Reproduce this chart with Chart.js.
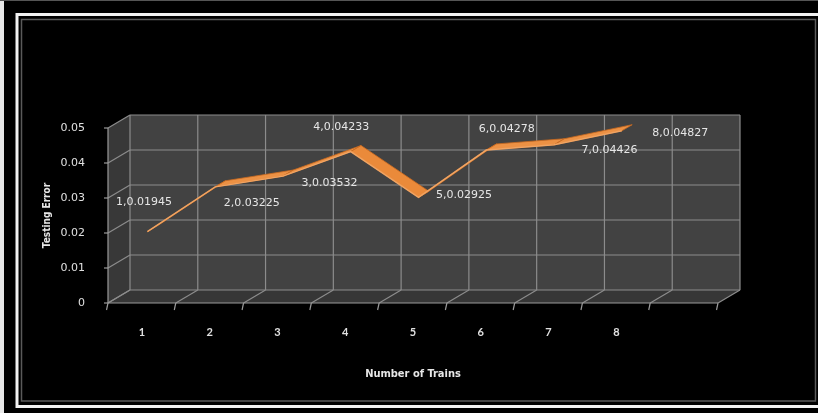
<!DOCTYPE html>
<html>
<head>
<meta charset="utf-8">
<style>
  html, body { margin: 0; padding: 0; background: #000; }
  #wrap { width: 818px; height: 413px; }
</style>
<script src="https://cdn.jsdelivr.net/npm/chart.js@4/dist/chart.umd.min.js"></script>
</head>
<body>
<div id="wrap"><canvas id="c" width="818" height="413"></canvas></div>
<script>
// Number of trains (last slot is the empty depth column of the 3D frame)
const trains = ['1', '2', '3', '4', '5', '6', '7', '8', ''];
// Testing error per number of trains
const testingError = [0.01945, 0.03225, 0.03532, 0.04233, 0.02925, 0.04278, 0.04426, 0.04827];
// Value axis ticks
const errorTicks = [0, 0.01, 0.02, 0.03, 0.04, 0.05];

// Label placement around each point (pixels, relative to the point)
const labelShift = [[2, -33], [42, 13], [52, 4], [-4, -28], [51, -5], [26, -24], [61, 2], [64, -1]];

// Depth of the 3D box and where the ribbon sits inside it
const DX = 22, DY = -13;
const RIBBON_FRONT = 0.25, RIBBON_DEPTH = 0.47;

function boundaries(chart) {
  const a = chart.chartArea, n = trains.length, out = [];
  for (let i = 0; i <= n; i++) out.push(a.left + i * (a.right - a.left) / n);
  return out;
}

function line(ctx, x1, y1, x2, y2) {
  ctx.beginPath(); ctx.moveTo(x1, y1); ctx.lineTo(x2, y2); ctx.stroke();
}

const frame3d = {
  id: 'frame3d',
  beforeDraw(chart) {
    const ctx = chart.ctx, a = chart.chartArea, ys = chart.scales.y;
    const W = chart.width, H = chart.height;
    ctx.save();
    // page background and picture frame
    ctx.fillStyle = '#000';
    ctx.fillRect(0, 0, W, H);
    ctx.fillStyle = '#e8e8e8';
    ctx.fillRect(0, 0, 4, H);
    ctx.fillStyle = '#555';
    ctx.fillRect(0, 0, W, 1);
    ctx.strokeStyle = '#f2f2f2';
    ctx.lineWidth = 3;
    ctx.strokeRect(17, 14.5, W + 10, 392);
    ctx.strokeStyle = '#5a5a5a';
    ctx.lineWidth = 1.5;
    ctx.strokeRect(21.5, 19.5, 794, 381.5);

    const L = a.left, R = a.right, T = a.top, B = a.bottom;
    // side wall
    ctx.fillStyle = '#383838';
    ctx.beginPath();
    ctx.moveTo(L, T); ctx.lineTo(L + DX, T + DY); ctx.lineTo(L + DX, B + DY); ctx.lineTo(L, B);
    ctx.closePath(); ctx.fill();
    // back wall
    ctx.fillStyle = '#424242';
    ctx.fillRect(L + DX, T + DY, R - L, B - T);
    // floor
    ctx.fillStyle = '#363636';
    ctx.beginPath();
    ctx.moveTo(L, B); ctx.lineTo(R, B); ctx.lineTo(R + DX, B + DY); ctx.lineTo(L + DX, B + DY);
    ctx.closePath(); ctx.fill();

    ctx.strokeStyle = '#8c8c8c';
    ctx.lineWidth = 1.2;
    // value gridlines on side and back walls
    errorTicks.forEach(v => {
      const y = ys.getPixelForValue(v);
      line(ctx, L, y, L + DX, y + DY);
      line(ctx, L + DX, y + DY, R + DX, y + DY);
    });
    // category gridlines on back wall and floor
    boundaries(chart).forEach(x => {
      line(ctx, x + DX, T + DY, x + DX, B + DY);
      line(ctx, x, B, x + DX, B + DY);
    });
    // front axes
    ctx.strokeStyle = '#9a9a9a';
    line(ctx, L, T, L, B);
    line(ctx, L, B, R, B);
    errorTicks.forEach(v => {
      const y = ys.getPixelForValue(v);
      line(ctx, L - 4, y, L, y);
    });
    boundaries(chart).forEach(x => line(ctx, x, B, x - 1.5, B + 7));
    ctx.restore();
  },
  beforeDatasetsDraw(chart) {
    const ctx = chart.ctx;
    const pts = chart.getDatasetMeta(0).data;
    const wx = DX * RIBBON_DEPTH, wy = DY * RIBBON_DEPTH;
    ctx.save();
    ctx.translate(DX * RIBBON_FRONT, DY * RIBBON_FRONT);
    // ribbon faces between the front edge and the back edge of the line
    for (let i = 0; i < pts.length - 1; i++) {
      const p = pts[i], q = pts[i + 1];
      ctx.beginPath();
      ctx.moveTo(p.x, p.y); ctx.lineTo(q.x, q.y);
      ctx.lineTo(q.x + wx, q.y + wy); ctx.lineTo(p.x + wx, p.y + wy);
      ctx.closePath();
      ctx.fillStyle = q.y > p.y ? '#ea8a3a' : '#ec9144';
      ctx.fill();
      ctx.strokeStyle = '#c9691f';
      ctx.lineWidth = 0.8;
      ctx.stroke();
    }
    // translation stays active for the dataset line (restored afterwards)
  },
  afterDatasetsDraw(chart) {
    const ctx = chart.ctx;
    ctx.restore();
    const pts = chart.getDatasetMeta(0).data;
    ctx.save();
    ctx.fillStyle = '#e6e6e6';
    ctx.font = '11px "DejaVu Sans", sans-serif';
    ctx.textAlign = 'center';
    ctx.textBaseline = 'middle';
    pts.forEach((p, i) => {
      const text = (i + 1) + ',' + testingError[i];
      ctx.fillText(text, p.x + labelShift[i][0], p.y + labelShift[i][1]);
    });
    ctx.restore();
  }
};

new Chart(document.getElementById('c'), {
  type: 'line',
  data: {
    labels: trains,
    datasets: [{
      label: 'Testing Error',
      data: testingError,
      borderColor: '#f0a463',
      borderWidth: 1.5,
      pointRadius: 0,
      tension: 0,
      clip: false
    }]
  },
  options: {
    responsive: false,
    animation: false,
    devicePixelRatio: 1,
    layout: { padding: { left: 36, top: 128, right: 100, bottom: 30 } },
    plugins: { legend: { display: false }, tooltip: { enabled: false } },
    scales: {
      x: {
        type: 'category',
        offset: true,
        grid: { display: false },
        border: { display: false },
        ticks: {
          color: '#e0e0e0',
          font: { family: 'Lato, "DejaVu Sans", sans-serif', size: 11, weight: 'bold' },
          padding: 15,
          maxRotation: 0,
          autoSkip: false
        },
        title: {
          display: true,
          text: 'Number of Trains',
          color: '#e6e6e6',
          font: { family: '"Liberation Sans Narrow", "DejaVu Sans Condensed", sans-serif', size: 11, weight: 'bold' },
          padding: { top: 0, bottom: 2 }
        },
        afterFit(scale) { scale.height = 80; }
      },
      y: {
        min: 0,
        max: 0.05,
        grid: { display: false },
        border: { display: false },
        afterBuildTicks(scale) { scale.ticks = errorTicks.map(v => ({ value: v })); },
        ticks: {
          color: '#e0e0e0',
          font: { family: '"DejaVu Sans", sans-serif', size: 11 },
          padding: 15,
          callback: v => String(v)
        },
        title: {
          display: true,
          text: 'Testing Error',
          color: '#e6e6e6',
          font: { family: '"Liberation Sans Narrow", "DejaVu Sans Condensed", sans-serif', size: 10, weight: 'bold' },
          padding: { top: 5, bottom: 0 }
        },
        afterFit(scale) { scale.width = 72; }
      }
    }
  },
  plugins: [frame3d]
});
</script>
</body>
</html>
